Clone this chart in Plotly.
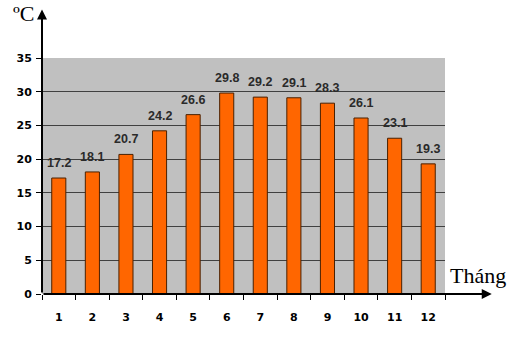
import plotly.graph_objects as go

months = [str(i) for i in range(1, 13)]
temps = [17.2, 18.1, 20.7, 24.2, 26.6, 29.8, 29.2, 29.1, 28.3, 26.1, 23.1, 19.3]
y_ticks = [0, 5, 10, 15, 20, 25, 30, 35]
y_label = "ºC"
x_label = "Tháng"

fig = go.Figure()
fig.add_trace(go.Bar(
    x=months, y=temps,
    marker=dict(color="#ff6600", line=dict(color="#4a2000", width=1)),
    width=0.42,
    hoverinfo="skip",
))

for i, t in enumerate(temps):
    fig.add_annotation(
        x=i, y=t, xref="x", yref="y", text=f"{t}", showarrow=False,
        yanchor="middle", yshift=15,
        font=dict(family="Liberation Sans", size=12.5, color="#2a2a2a", weight="bold"),
    )

# axis arrows
fig.add_annotation(xref="x domain", yref="y domain", axref="x domain", ayref="y domain",
                   x=0, y=1.205, ax=0, ay=0, showarrow=True, arrowhead=2,
                   arrowsize=1, arrowwidth=2, arrowcolor="black", text="")
fig.add_annotation(xref="x domain", yref="y domain", axref="x domain", ayref="y domain",
                   x=1.116, y=0, ax=0, ay=0, showarrow=True, arrowhead=2,
                   arrowsize=1, arrowwidth=2, arrowcolor="black", text="")

fig.add_annotation(xref="paper", yref="paper", x=-0.045, y=1.19, text=y_label,
                   showarrow=False, xanchor="center", yanchor="middle",
                   font=dict(family="Liberation Serif", size=22, color="black"))
fig.add_annotation(xref="paper", yref="paper", x=1.082, y=0.08, text=x_label,
                   showarrow=False, xanchor="center", yanchor="middle",
                   font=dict(family="Liberation Serif", size=22, color="black"))

fig.update_layout(
    width=509, height=342,
    margin=dict(l=42, r=64, t=58, b=48),
    paper_bgcolor="white", plot_bgcolor="#c0c0c0",
    showlegend=False,
    xaxis=dict(
        type="category", range=[-0.5, 11.5], showgrid=False, tickson="boundaries",
        ticks="outside", ticklen=5, tickwidth=1, tickcolor="black",
        showline=False, ticklabelstandoff=15,
        tickfont=dict(family="DejaVu Sans", size=11, color="black", weight="bold"),
    ),
    yaxis=dict(
        range=[0, 35], tickvals=y_ticks, showgrid=True, gridcolor="#404040", gridwidth=1.3,
        zeroline=False, ticks="outside", ticklen=5, tickwidth=1, tickcolor="black",
        showline=False, ticklabelstandoff=2,
        tickfont=dict(family="DejaVu Sans", size=11, color="black", weight="bold"),
    ),
)

fig.write_html("out.html")
